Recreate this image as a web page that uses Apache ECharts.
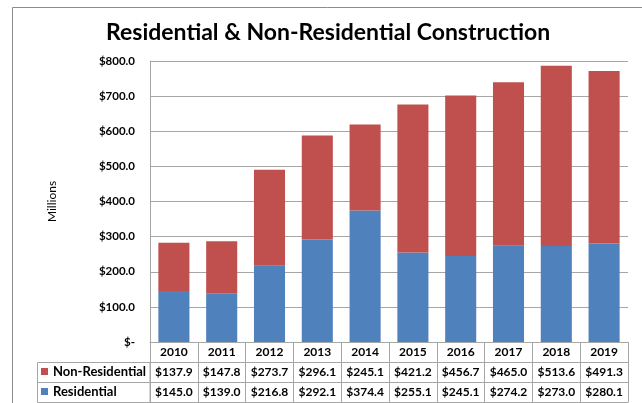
<!DOCTYPE html>
<html>
<head>
<meta charset="utf-8">
<script src="https://cdn.jsdelivr.net/npm/echarts@6/dist/echarts.min.js"></script>
<style>
  html, body { margin: 0; padding: 0; background: #fff; }
  #chart { width: 642px; height: 403px; }
</style>
</head>
<body>
<div id="chart"></div>
<script>
// Construction spending, millions of dollars
const years = ['2010', '2011', '2012', '2013', '2014', '2015', '2016', '2017', '2018', '2019'];
const nonResidential = [137.9, 147.8, 273.7, 296.1, 245.1, 421.2, 456.7, 465.0, 513.6, 491.3];
const residential = [145.0, 139.0, 216.8, 292.1, 374.4, 255.1, 245.1, 274.2, 273.0, 280.1];
const yTicks = [0, 100, 200, 300, 400, 500, 600, 700, 800];

const FONT = 'Lato';
const GRID_LINE = '#a6a6a6';
const RED = '#C0504D';
const BLUE = '#4F81BD';

const money = v => '$' + v.toFixed(1);

// Each table row is a category axis drawn below the plot; its ticks form the cell walls
function tableAxis(offset, labels, showLabels) {
  return {
    type: 'category',
    data: years,
    position: 'bottom',
    offset: offset,
    axisLine: { show: true, lineStyle: { color: GRID_LINE, width: 1 } },
    axisTick: { show: showLabels, length: 20, interval: 0, alignWithLabel: false,
                lineStyle: { color: GRID_LINE, width: 1 } },
    axisLabel: {
      show: showLabels,
      interval: 0,
      margin: 10,
      verticalAlign: 'middle',
      fontFamily: FONT, fontWeight: 'bold', fontSize: 12, color: '#000',
      formatter: (v, i) => labels ? labels[i] : v
    },
    splitLine: { show: false }
  };
}

// One legend entry per table row, sitting in the row's first cell
function rowLegend(name, top) {
  return {
    left: 41,
    top: top,
    padding: 0,
    itemWidth: 7,
    itemHeight: 7,
    itemGap: 4,
    icon: 'rect',
    data: [name],
    textStyle: { fontFamily: FONT, fontWeight: 'bold', fontSize: 13, color: '#000' }
  };
}

const chart = echarts.init(document.getElementById('chart'), null, { renderer: 'canvas' });

chart.setOption({
  backgroundColor: '#fff',
  animation: false,
  title: {
    text: 'Residential & Non-Residential Construction',
    left: 101,
    top: 16,
    textStyle: { fontFamily: FONT, fontWeight: 'bold', fontSize: 23, color: '#000' }
  },
  legend: [
    rowLegend('Non-Residential', 365),
    rowLegend('Residential', 385)
  ],
  grid: { left: 150, right: 14, top: 61, bottom: 61, containLabel: false },
  xAxis: [
    tableAxis(0, null, true),
    tableAxis(20, nonResidential.map(money), true),
    tableAxis(40, residential.map(money), true),
    tableAxis(60, null, false)
  ],
  yAxis: {
    type: 'value',
    min: yTicks[0],
    max: yTicks[yTicks.length - 1],
    interval: 100,
    name: 'Millions',
    nameLocation: 'middle',
    nameGap: 92,
    nameRotate: 90,
    nameTextStyle: { fontFamily: FONT, fontSize: 12, color: '#000' },
    axisLine: { show: true, lineStyle: { color: GRID_LINE } },
    axisTick: { show: false },
    axisLabel: {
      margin: 15,
      fontFamily: FONT, fontWeight: 'bold', fontSize: 11.5, color: '#000',
      formatter: v => (v === 0 ? '$-' : money(v))
    },
    splitLine: { show: true, lineStyle: { color: GRID_LINE, width: 1 } }
  },
  series: [
    {
      name: 'Residential',
      type: 'bar',
      stack: 'total',
      xAxisIndex: 0,
      data: residential,
      barCategoryGap: '35%',
      itemStyle: { color: BLUE }
    },
    {
      name: 'Non-Residential',
      type: 'bar',
      stack: 'total',
      xAxisIndex: 0,
      data: nonResidential,
      barCategoryGap: '35%',
      itemStyle: { color: RED }
    }
  ],
  graphic: [
    // chart frame
    { type: 'rect', shape: { x: 12.5, y: 7.5, width: 700, height: 500 },
      style: { fill: 'none', stroke: '#8c8c8c', lineWidth: 1 }, silent: true },
    // legend column of the data table
    { type: 'rect', shape: { x: 37.5, y: 362.5, width: 112.5, height: 40 },
      style: { fill: 'none', stroke: GRID_LINE, lineWidth: 1 }, silent: true },
    { type: 'line', shape: { x1: 37.5, y1: 382.5, x2: 150, y2: 382.5 },
      style: { stroke: GRID_LINE, lineWidth: 1 }, silent: true }
  ]
});
</script>
</body>
</html>
